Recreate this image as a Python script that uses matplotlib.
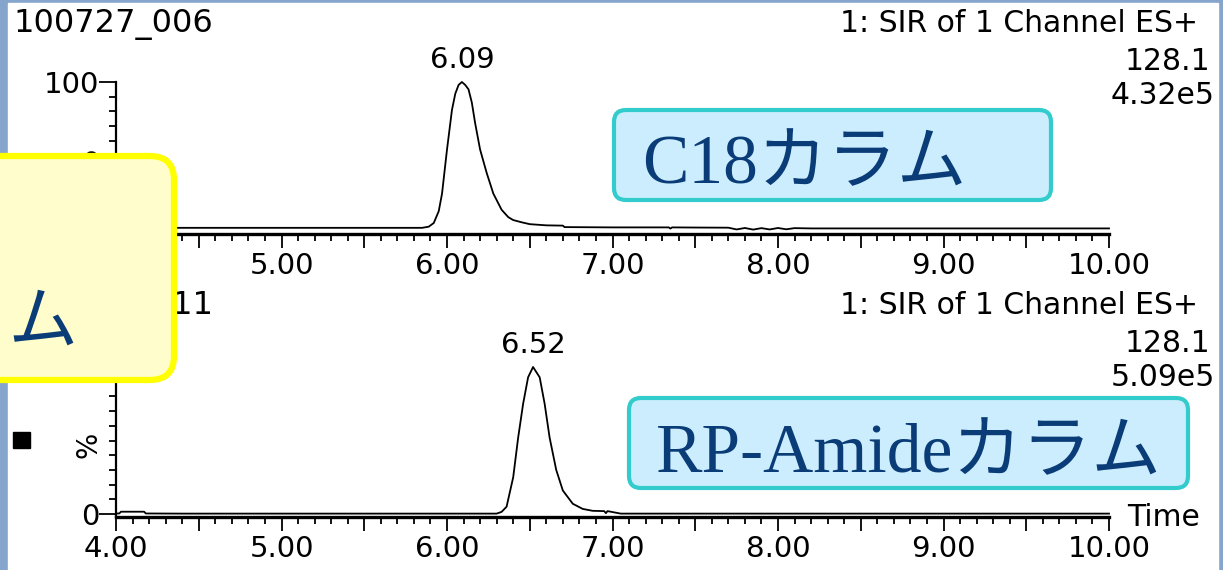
import matplotlib
matplotlib.use("Agg")
import matplotlib.pyplot as plt
from matplotlib.patches import FancyBboxPatch, Rectangle
from matplotlib.ticker import MultipleLocator

# C18 column trace: retention time (min) vs relative intensity (%)
c18_time = [4.00, 4.50, 5.00, 5.50, 5.85, 5.89, 5.92, 5.95, 5.97, 6.00, 6.03,
            6.05, 6.07, 6.09, 6.11, 6.13, 6.15, 6.17, 6.20, 6.24, 6.28, 6.33,
            6.37, 6.40, 6.45, 6.50, 6.60, 6.70, 6.71, 7.00, 7.34, 7.35, 7.36,
            7.50, 7.70, 7.75, 7.80, 7.85, 7.90, 7.95, 8.00, 8.05, 8.10, 8.20,
            8.50, 9.00, 9.50, 10.00]
c18_int = [0.7, 0.7, 0.7, 0.7, 0.7, 1.5, 4, 12, 24, 54, 81,
           92, 98, 100, 98, 95, 86, 72, 54, 38, 24, 13,
           8, 6, 4.5, 3.2, 2.4, 2.2, 1.2, 1.0, 1.0, 0.2, 1.0,
           0.9, 0.8, -0.4, 0.6, -0.5, 0.5, -0.4, 0.6, -0.3, 0.5, 0.3,
           0.3, 0.3, 0.3, 0.3]

# RP-Amide column trace
amide_time = [4.00, 4.02, 4.03, 4.17, 4.18, 4.40, 5.00, 6.00, 6.30, 6.33,
              6.36, 6.40, 6.43, 6.46, 6.49, 6.52, 6.56, 6.59, 6.62, 6.66,
              6.70, 6.76, 6.82, 6.88, 6.95, 6.96, 6.97, 7.05, 8.00, 9.00, 10.00]
amide_int = [0.4, 0.4, 1.6, 1.6, 0.4, 0.3, 0.3, 0.3, 0.3, 1.5,
             5, 25, 52, 75, 93, 100, 93, 75, 52, 30,
             16, 7, 3.5, 2.2, 2.0, 0.6, 2.0, 0.3, 0.3, 0.3, 0.3]

x_major = [4.0, 4.5, 5.0, 5.5, 6.0, 6.5, 7.0, 7.5, 8.0, 8.5, 9.0, 9.5, 10.0]
x_labels = ['4.00', '', '5.00', '', '6.00', '', '7.00', '', '8.00', '',
            '9.00', '', '10.00']

panels = [
    {"sample": "100727_006", "mass": "128.1", "scale": "4.32e5",
     "time": c18_time, "int": c18_int, "peak": "6.09", "peak_x": 6.09,
     "column": "C18カラム"},
    {"sample": "100727_011", "mass": "128.1", "scale": "5.09e5",
     "time": amide_time, "int": amide_int, "peak": "6.52", "peak_x": 6.52,
     "column": "RP-Amideカラム"},
]

W, H = 1223, 570
fig = plt.figure(figsize=(W / 100, H / 100), dpi=100)
fig.patch.set_facecolor('#86A5CC')

# page background (slide border + white chart area), pixel coordinates
bg = fig.add_axes([0, 0, 1, 1], zorder=0)
bg.set_xlim(0, W)
bg.set_ylim(H, 0)
bg.axis('off')
bg.add_patch(Rectangle((8, 3), 1210, 570, color='white', zorder=0))

ov = fig.add_axes([0, 0, 1, 1], zorder=5)
ov.set_xlim(0, W)
ov.set_ylim(H, 0)
ov.axis('off')
ov.patch.set_alpha(0)

TXT = dict(family='DejaVu Sans', fontsize=21.5, color='black')
JP = ['Liberation Serif', 'Noto Sans CJK JP']
NAVY = '#0A3C78'

# pixel layout of each chart: (y of 100%, y of axis line, ylim bottom, header y)
layout = [(82, 234, -3.5, 24), (367, 517, -2.0, 306)]
x_left, x_right = 116, 1109

for p, (ytop, ybot, ymin, hy) in zip(panels, layout):
    ax = fig.add_axes([x_left / W, 1 - ybot / H, (x_right - x_left) / W,
                       (ybot - ytop) / H], zorder=1)
    ax.patch.set_alpha(0)
    ax.plot(p["time"], p["int"], color='black', lw=1.3, clip_on=False)
    ax.set_xlim(4, 10)
    ax.set_ylim(ymin, 100)
    for s in ('top', 'right'):
        ax.spines[s].set_visible(False)
    ax.spines['bottom'].set_linewidth(2.4)
    ax.spines['left'].set_linewidth(1.6)
    ax.spines['left'].set_bounds(ymin, 100)

    ax.set_xticks(x_major, x_labels)
    ax.xaxis.set_minor_locator(MultipleLocator(0.1))
    ax.set_yticks([0, 100], ['0', '100'])
    ax.yaxis.set_minor_locator(MultipleLocator(10))
    ax.tick_params(axis='x', which='major', length=10, width=1.3, pad=3,
                   labelsize=21, labelfontfamily='DejaVu Sans')
    ax.tick_params(axis='x', which='minor', length=5, width=1.3)
    ax.tick_params(axis='y', which='major', length=12, width=1.3, pad=0,
                   labelsize=21, labelfontfamily='DejaVu Sans')
    ax.tick_params(axis='y', which='minor', length=5, width=1.3)
    ax.text(-0.028, 0.48, '%', rotation=90, transform=ax.transAxes,
            ha='center', va='center', family='DejaVu Sans', fontsize=20)

    ax.annotate(p["peak"], xy=(p["peak_x"], 100), xytext=(0, 6),
                textcoords='offset points', ha='center', va='bottom',
                family='DejaVu Sans', fontsize=21)

    bg.text(13, hy, p["sample"], ha='left', va='center', family='DejaVu Sans',
            fontsize=23, color='black')
    bg.text(1198, hy, '1: SIR of 1 Channel ES+', ha='right', va='center', **TXT)
    bg.text(1210, hy + 37, p["mass"], ha='right', va='center', **TXT)
    bg.text(1215, hy + 72, p["scale"], ha='right', va='center', **TXT)

bg.text(1200, 518, 'Time', ha='right', va='center', **TXT)

# column labels
ov.add_patch(FancyBboxPatch((614, 110), 437, 90,
                            boxstyle='round,pad=0,rounding_size=12',
                            fc='#CCEDFD', ec='#33CCCC', lw=3))
ov.text(642, 183, panels[0]["column"], ha='left', va='baseline',
        family=JP, fontsize=50, color=NAVY)

ov.add_patch(FancyBboxPatch((629, 398), 559, 90,
                            boxstyle='round,pad=0,rounding_size=12',
                            fc='#CCEDFD', ec='#33CCCC', lw=3))
ov.text(656, 472, panels[1]["column"], ha='left', va='baseline',
        family=JP, fontsize=50, color=NAVY)

# yellow callout sticking in from the left edge (mostly off the slide)
ov.add_patch(FancyBboxPatch((-40, 156), 214, 224,
                            boxstyle='round,pad=0,rounding_size=24',
                            fc='#FFFDCC', ec='#FFFF00', lw=4.5))
ov.text(78, 343, 'HILICカラム', ha='right', va='baseline',
        family=JP, fontsize=50, color=NAVY)

bg.add_patch(Rectangle((13, 432), 17, 16, color='black'))

fig.savefig('out.png', dpi=100, facecolor=fig.get_facecolor())
